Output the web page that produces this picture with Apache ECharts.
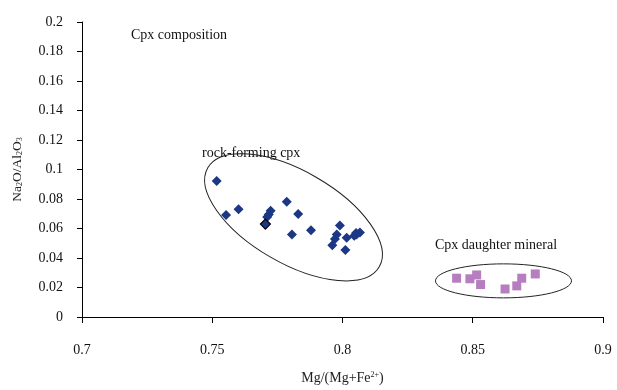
<!DOCTYPE html>
<html><head><meta charset="utf-8">
<script src="https://cdn.jsdelivr.net/npm/echarts@6/dist/echarts.min.js"></script>
<style>html,body{margin:0;padding:0;background:#fff}#c{width:617px;height:390px}</style>
</head><body><div id="c"></div>
<script>
// Rock-forming cpx: Mg/(Mg+Fe2+), Na2O/Al2O3
const rockX = [0.7517,0.7553,0.7601,0.7724,0.7717,0.7711,0.7786,0.7830,0.7806,0.7879,0.7990,0.7978,0.7971,0.7961,0.8011,0.8016,0.8045,0.8052,0.8067,0.8054];
const rockY = [0.0922,0.0691,0.0730,0.0721,0.0695,0.0678,0.0782,0.0699,0.0560,0.0588,0.0621,0.0560,0.0529,0.0486,0.0455,0.0538,0.0551,0.0569,0.0573,0.0560];
const rockOutlinedX = [0.7704];
const rockOutlinedY = [0.0630];
// Cpx daughter mineral
const daughterX = [0.8438,0.8489,0.8515,0.8530,0.8624,0.8669,0.8688,0.8740];
const daughterY = [0.0263,0.0259,0.0285,0.0220,0.0190,0.0211,0.0263,0.0292];
const xTicks = [0.7,0.75,0.8,0.85,0.9];
const yTicks = [0,0.02,0.04,0.06,0.08,0.1,0.12,0.14,0.16,0.18,0.2];
const labels = ['Cpx composition','rock-forming cpx','Cpx daughter mineral'];

// annotation ellipses (center in data coords)
const ellipseCenters = [[0.7812,0.0676],[0.8618,0.0245]];

const zip = (a,b)=>a.map((v,i)=>[v,b[i]]);
const serif = '"Liberation Serif","Times New Roman",serif';
const chart = echarts.init(document.getElementById('c'));
const ellipseGeom = [{rx:99,ry:46,rot:30},{rx:68,ry:17,rot:0}];
chart.setOption({
  animation:false,
  grid:{left:82,right:14,top:22,bottom:64,containLabel:false},
  xAxis:{type:'value',min:xTicks[0],max:xTicks[xTicks.length-1],interval:0.05,
    name:'Mg/(Mg+Fe{s|2+})',nameLocation:'middle',nameGap:54,
    nameTextStyle:{color:'#222',fontFamily:serif,fontSize:14,rich:{s:{fontSize:8,verticalAlign:'top',padding:[0,0,6,0],fontFamily:serif,color:'#222'}}},
    axisLine:{lineStyle:{color:'#000',width:1}},
    axisTick:{show:true,length:6,inside:false,lineStyle:{color:'#000'}},
    axisLabel:{color:'#111',fontFamily:serif,fontSize:14,margin:26},
    splitLine:{show:false}},
  yAxis:{type:'value',min:yTicks[0],max:yTicks[yTicks.length-1],interval:0.02,
    name:'Na{s|2}O/Al{s|2}O{s|3}',nameLocation:'middle',nameGap:58,
    nameTextStyle:{color:'#222',fontFamily:serif,fontSize:13.5,rich:{s:{fontSize:8,verticalAlign:'bottom',padding:[6,0,0,0],fontFamily:serif,color:'#222'}}},
    axisLine:{show:true,lineStyle:{color:'#000',width:1}},
    axisTick:{show:true,length:5,lineStyle:{color:'#000'}},
    axisLabel:{color:'#111',fontFamily:serif,fontSize:14,margin:19},
    splitLine:{show:false}},
  graphic:[
    {type:'text',left:131,top:28,style:{text:labels[0],font:'14px '+serif,fill:'#111'}},
    {type:'text',left:202,top:146,style:{text:labels[1],font:'14px '+serif,fill:'#111'}},
    {type:'text',left:435,top:238,style:{text:labels[2],font:'14px '+serif,fill:'#111'}}
  ],
  series:[
    {type:'custom',silent:true,z:1,data:ellipseCenters,
      renderItem:(params,api)=>{
        const p = api.coord([api.value(0),api.value(1)]);
        const g = ellipseGeom[params.dataIndex];
        return {type:'ellipse',x:p[0],y:p[1],rotation:-g.rot*Math.PI/180,
          shape:{cx:0,cy:0,rx:g.rx,ry:g.ry},
          style:{fill:'none',stroke:'#222',lineWidth:1}};
      }},
    {type:'scatter',symbol:'diamond',symbolSize:10,z:3,data:zip(rockX,rockY),
      itemStyle:{color:'#1c3783',opacity:1}},
    {type:'scatter',symbol:'diamond',symbolSize:10,z:3,data:zip(rockOutlinedX,rockOutlinedY),
      itemStyle:{color:'#1c3783',borderColor:'#000',borderWidth:1.2,opacity:1}},
    {type:'scatter',symbol:'rect',symbolSize:9,z:3,data:zip(daughterX,daughterY),
      itemStyle:{color:'#b67ec0',opacity:1}}
  ]
});
</script></body></html>
